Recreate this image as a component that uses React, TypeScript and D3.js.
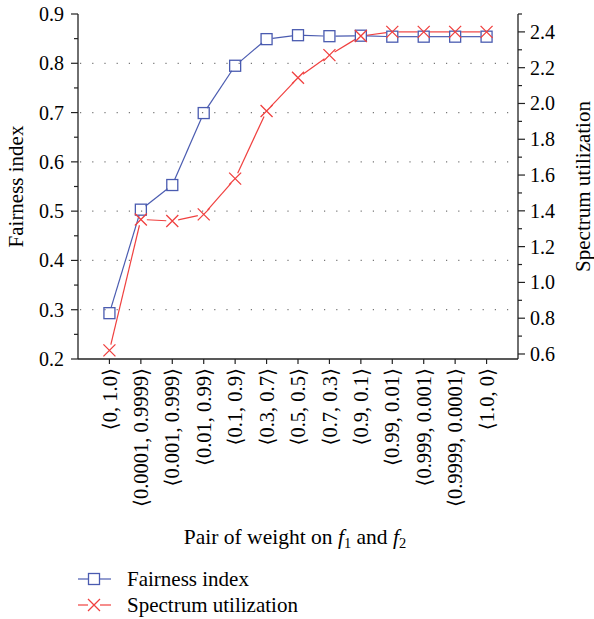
import React from 'react';
import * as d3 from 'd3';

const categories = [
  '⟨0, 1.0⟩', '⟨0.0001, 0.9999⟩', '⟨0.001, 0.999⟩', '⟨0.01, 0.99⟩', '⟨0.1, 0.9⟩',
  '⟨0.3, 0.7⟩', '⟨0.5, 0.5⟩', '⟨0.7, 0.3⟩', '⟨0.9, 0.1⟩', '⟨0.99, 0.01⟩',
  '⟨0.999, 0.001⟩', '⟨0.9999, 0.0001⟩', '⟨1.0, 0⟩',
];
const fairness = [0.293, 0.503, 0.553, 0.699, 0.795, 0.849, 0.857, 0.855, 0.856, 0.854, 0.854, 0.854, 0.854];
const spectrum = [0.62, 1.352, 1.343, 1.38, 1.58, 1.958, 2.144, 2.27, 2.377, 2.40, 2.40, 2.40, 2.40];
const leftTicks = [0.2, 0.3, 0.4, 0.5, 0.6, 0.7, 0.8, 0.9];
const leftMinor = [0.25, 0.35, 0.45, 0.55, 0.65, 0.75, 0.85];
const gridTicks = [0.3, 0.4, 0.5, 0.6, 0.7, 0.8];
const rightTicks = [0.6, 0.8, 1.0, 1.2, 1.4, 1.6, 1.8, 2.0, 2.2, 2.4];
const rightMinor = [0.7, 0.9, 1.1, 1.3, 1.5, 1.7, 1.9, 2.1, 2.3, 2.5];

const BLUE = '#4a5bb0';
const RED = '#f0403f';
const AXIS = '#222';
const FONT = '"Liberation Serif", "DejaVu Serif", serif';

const L = 78, R = 518, T = 14, B = 359;

function gapSegments(pts: [number, number][], gap: number) {
  const segs: [number, number, number, number][] = [];
  for (let i = 0; i < pts.length - 1; i++) {
    const [x1, y1] = pts[i];
    const [x2, y2] = pts[i + 1];
    const dx = x2 - x1, dy = y2 - y1;
    const len = Math.hypot(dx, dy);
    if (len <= 2 * gap) continue;
    const ux = dx / len, uy = dy / len;
    segs.push([x1 + ux * gap, y1 + uy * gap, x2 - ux * gap, y2 - uy * gap]);
  }
  return segs;
}

export default function App() {
  const x = d3.scalePoint<string>().domain(categories).range([L, R]).padding(1);
  const yL = d3.scaleLinear().domain([0.2, 0.9]).range([B, T]);
  const yR = d3.scaleLinear().domain([0.572, 2.5]).range([B, T]);
  const fmt = d3.format('.1f');

  const fPts: [number, number][] = categories.map((c, i) => [x(c)!, yL(fairness[i])]);
  const sPts: [number, number][] = categories.map((c, i) => [x(c)!, yR(spectrum[i])]);
  const s = 5.5;

  const square = (cx: number, cy: number, key: any, color = BLUE) => (
    <rect key={key} x={cx - s} y={cy - s} width={2 * s} height={2 * s} fill="none" stroke={color} strokeWidth={1.3} />
  );
  const cross = (cx: number, cy: number, key: any, color = RED) => (
    <path key={key} d={`M${cx - 6},${cy - 6}L${cx + 6},${cy + 6}M${cx - 6},${cy + 6}L${cx + 6},${cy - 6}`} stroke={color} strokeWidth={1.3} fill="none" />
  );

  return (
    <svg width={594} height={619} style={{ position: 'absolute', left: 0, top: 0, fontFamily: FONT }}>
      <rect width={594} height={619} fill="#fff" />
      {/* grid */}
      {gridTicks.map((t) => (
        <line key={'g' + t} x1={L + 2} x2={R - 2} y1={yL(t)} y2={yL(t)} stroke="#777" strokeWidth={1.2} strokeDasharray="1.2,11" />
      ))}
      {/* axes */}
      <line x1={L} x2={L} y1={T} y2={B} stroke={AXIS} strokeWidth={1.3} />
      <line x1={R} x2={R} y1={T} y2={B} stroke={AXIS} strokeWidth={1.3} />
      <line x1={L} x2={R} y1={B} y2={B} stroke={AXIS} strokeWidth={1.3} />
      {leftTicks.map((t) => (
        <g key={'lt' + t}>
          <line x1={L - 7} x2={L} y1={yL(t)} y2={yL(t)} stroke={AXIS} strokeWidth={1.2} />
          <text x={L - 14} y={yL(t)} dy="0.35em" textAnchor="end" fontSize={20}>{fmt(t)}</text>
        </g>
      ))}
      {leftMinor.map((t) => (
        <line key={'lm' + t} x1={L - 4} x2={L} y1={yL(t)} y2={yL(t)} stroke={AXIS} strokeWidth={1.2} />
      ))}
      {rightTicks.map((t) => (
        <g key={'rt' + t}>
          <line x1={R} x2={R + 7} y1={yR(t)} y2={yR(t)} stroke={AXIS} strokeWidth={1.2} />
          <text x={R + 12} y={yR(t)} dy="0.35em" textAnchor="start" fontSize={20}>{fmt(t)}</text>
        </g>
      ))}
      {rightMinor.map((t) => (
        <line key={'rm' + t} x1={R} x2={R + 4} y1={yR(t)} y2={yR(t)} stroke={AXIS} strokeWidth={1.2} />
      ))}
      {categories.map((c) => (
        <g key={'xt' + c}>
          <line x1={x(c)!} x2={x(c)!} y1={B} y2={B + 5} stroke={AXIS} strokeWidth={1.2} />
          <text transform={`translate(${x(c)!},${B + 9}) rotate(-90)`} dy="0.35em" textAnchor="end" fontSize={20.5}>{c}</text>
        </g>
      ))}
      {/* axis titles */}
      <text transform={`translate(16,${(T + B) / 2}) rotate(-90)`} dy="0.35em" textAnchor="middle" fontSize={21}>Fairness index</text>
      <text transform={`translate(583,${(T + B) / 2}) rotate(-90)`} dy="0.35em" textAnchor="middle" fontSize={21}>Spectrum utilization</text>
      <text x={295} y={544} textAnchor="middle" fontSize={21.5}>
        Pair of weight on <tspan fontStyle="italic">f</tspan><tspan fontSize={14.5} dy={4}>1</tspan>
        <tspan dy={-4}> and </tspan><tspan fontStyle="italic">f</tspan><tspan fontSize={14.5} dy={4}>2</tspan>
      </text>
      {/* series */}
      {gapSegments(fPts, 6).map((sg, i) => (
        <line key={'fs' + i} x1={sg[0]} y1={sg[1]} x2={sg[2]} y2={sg[3]} stroke={BLUE} strokeWidth={1.2} />
      ))}
      {gapSegments(sPts, 6).map((sg, i) => (
        <line key={'ss' + i} x1={sg[0]} y1={sg[1]} x2={sg[2]} y2={sg[3]} stroke={RED} strokeWidth={1.2} />
      ))}
      {fPts.map((p, i) => square(p[0], p[1], 'fm' + i))}
      {sPts.map((p, i) => cross(p[0], p[1], 'sm' + i))}
      {/* legend */}
      <g>
        <line x1={78} x2={88} y1={579} y2={579} stroke={BLUE} strokeWidth={1.2} />
        <line x1={100} x2={111} y1={579} y2={579} stroke={BLUE} strokeWidth={1.2} />
        {square(94, 579, 'lg1')}
        <text x={127} y={579} dy="0.35em" fontSize={21}>Fairness index</text>
        <line x1={78} x2={88} y1={605} y2={605} stroke={RED} strokeWidth={1.2} />
        <line x1={100} x2={111} y1={605} y2={605} stroke={RED} strokeWidth={1.2} />
        {cross(94, 605, 'lg2')}
        <text x={127} y={605} dy="0.35em" fontSize={21}>Spectrum utilization</text>
      </g>
    </svg>
  );
}
